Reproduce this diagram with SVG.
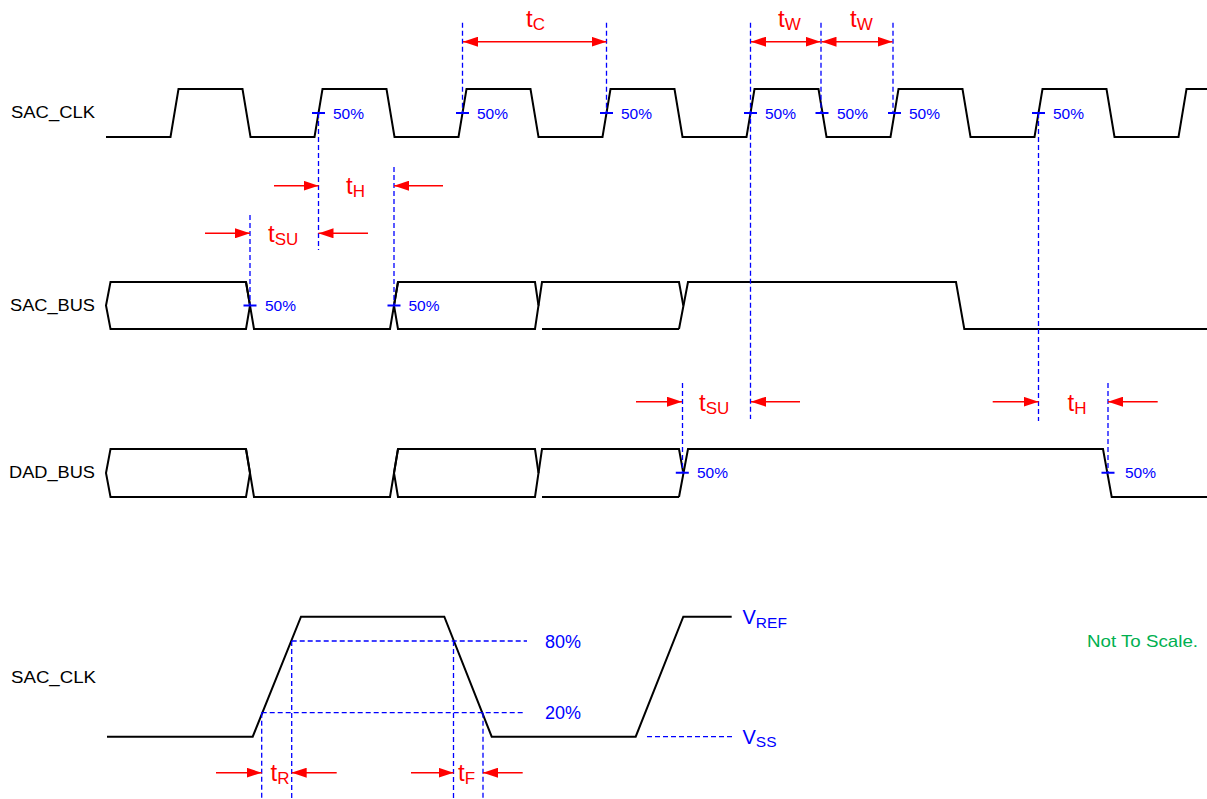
<svg xmlns="http://www.w3.org/2000/svg" width="1207" height="799" viewBox="0 0 1207 799">
<style>
.wave{fill:none;stroke:#000;stroke-width:2;stroke-linejoin:miter}
.dash{fill:none;stroke:#0000ff;stroke-width:1.3;stroke-dasharray:5 3}
.tick{stroke:#0000ff;stroke-width:2}
.arr{fill:none;stroke:#ff0000;stroke-width:1.4}
.lbl{font-family:"Liberation Sans",Arial,sans-serif;font-size:16px;fill:#000}
.pct{font-family:"Liberation Sans",Arial,sans-serif;font-size:15.5px;fill:#0000ff}
.big{font-family:"Liberation Sans",Arial,sans-serif;font-size:18px;fill:#0000ff}
.tl{font-family:"Liberation Sans",Arial,sans-serif;font-size:24px;fill:#ff0000}
.sub{font-size:17px}
.v{font-family:"Liberation Sans",Arial,sans-serif;font-size:20px;fill:#0000ff}
.vs{font-size:15.5px}
.note{font-family:"Liberation Sans",Arial,sans-serif;font-size:17px;fill:#00b050}
</style>
<defs>
<marker id="ah" markerUnits="userSpaceOnUse" markerWidth="15" markerHeight="10" refX="15" refY="5" orient="auto-start-reverse" viewBox="0 0 15 10">
<path d="M0,0 L15,5 L0,10 Z" fill="#ff0000"/>
</marker>
</defs>
<rect width="1207" height="799" fill="#fff"/>

<g id="labels">
<text class="lbl" x="11" y="118" textLength="84" lengthAdjust="spacingAndGlyphs">SAC_CLK</text>
<text class="lbl" x="10" y="311" textLength="85" lengthAdjust="spacingAndGlyphs">SAC_BUS</text>
<text class="lbl" x="9" y="478" textLength="86" lengthAdjust="spacingAndGlyphs">DAD_BUS</text>
<text class="lbl" x="11" y="683" textLength="85" lengthAdjust="spacingAndGlyphs">SAC_CLK</text>
<text class="note" x="1087" y="647" textLength="111" lengthAdjust="spacingAndGlyphs">Not To Scale.</text>
</g>

<g id="sac-clk">
<path class="wave" d="M106,137 H170.5 L178.5,89 H242.5 L250.5,137 H314.5 L322.5,89 H386.5 L394.5,137 H458.5 L466.5,89 H530.5 L538.5,137 H602.5 L610.5,89 H674.5 L682.5,137 H746.5 L754.5,89 H818.5 L826.5,137 H890.5 L898.5,89 H962.5 L970.5,137 H1034.5 L1042.5,89 H1106.5 L1114.5,137 H1178.5 L1186.5,89 H1207"/>
</g>

<g id="sac-bus">
<path class="wave" d="M106,305.5 L110.5,282 H246 L250,305.5 L246,329 H110.5 Z"/>
<path class="wave" d="M246,282 L254,329 H390 L398,282"/>
<path class="wave" d="M394,305.5 L398,282 H535 L538.5,305.5 L535,329 H398 Z"/>
<path class="wave" d="M538.5,305.5 L542,282 H679 L683.3,305.5 M542,329 H679"/>
<path class="wave" d="M679,329 L688,282 H956 L964.3,329 H1207"/>
</g>

<g id="dad-bus">
<path class="wave" d="M106,473 L110.5,449 H246 L250,473 L246,497 H110.5 Z"/>
<path class="wave" d="M246,449 L254,497 H390 L398,449"/>
<path class="wave" d="M394,473 L398,449 H535 L538.5,473 L535,497 H398 Z"/>
<path class="wave" d="M538.5,473 L542,449 H679 L683.3,473 M542,497 H679"/>
<path class="wave" d="M679,497 L688,449 H1103 L1111.7,497 H1207"/>
</g>

<g id="sac-clk-edge">
<path class="wave" d="M107,736.7 H252.7 L301,616.7 H444.3 L491.7,736.7 H635.7 L683.3,616.7 H731.7"/>
</g>

<g id="markers">
<path class="tick" d="M312,113 h13 M456,113 h13 M600,113 h13 M744,113 h13 M815.5,113 h13 M888,113 h13 M1032,113 h13 M243.5,305.5 h13 M387.5,305.5 h13 M675.8,472.7 h13 M1101.5,472.7 h13"/>
<text class="pct" x="333" y="118.5">50%</text>
<text class="pct" x="477" y="118.5">50%</text>
<text class="pct" x="621" y="118.5">50%</text>
<text class="pct" x="765" y="118.5">50%</text>
<text class="pct" x="837" y="118.5">50%</text>
<text class="pct" x="909" y="118.5">50%</text>
<text class="pct" x="1053" y="118.5">50%</text>
<text class="pct" x="265" y="310.5">50%</text>
<text class="pct" x="408.5" y="310.5">50%</text>
<text class="pct" x="697" y="477.5">50%</text>
<text class="pct" x="1125" y="477.5">50%</text>
<text class="big" x="545" y="647.5">80%</text>
<text class="big" x="545" y="719">20%</text>
<text class="v" x="742.5" y="623.5">V<tspan class="vs" dy="4">REF</tspan></text>
<text class="v" x="742.5" y="744">V<tspan class="vs" dy="3">SS</tspan></text>
</g>

<g id="guides">
<path class="dash" d="M318.5,113 V250 M250,215 V305 M394,167 V305 M462.5,22.7 V113 M606.5,22.7 V113 M750.5,22.7 V419 M821,22.7 V113 M893,22.7 V113 M1038.5,113 V421 M682.5,383 V473 M1108,383 V473"/>
<path class="dash" d="M291.7,641 H527 M261.7,712.7 H525 M261.7,712.7 V799 M291.7,641 V799 M453.5,641 V799 M483,712.7 V799 M647,736.7 H733"/>
</g>

<g id="connectors">
<line class="arr" x1="463" y1="41.7" x2="606.5" y2="41.7" marker-start="url(#ah)" marker-end="url(#ah)"/>
<line class="arr" x1="751" y1="41.7" x2="820.5" y2="41.7" marker-start="url(#ah)" marker-end="url(#ah)"/>
<line class="arr" x1="821.5" y1="41.7" x2="892.5" y2="41.7" marker-start="url(#ah)" marker-end="url(#ah)"/>
<line class="arr" x1="274" y1="185.7" x2="318.5" y2="185.7" marker-end="url(#ah)"/>
<line class="arr" x1="443" y1="185.7" x2="394" y2="185.7" marker-end="url(#ah)"/>
<line class="arr" x1="205" y1="233.3" x2="250" y2="233.3" marker-end="url(#ah)"/>
<line class="arr" x1="368" y1="233.3" x2="318.5" y2="233.3" marker-end="url(#ah)"/>
<line class="arr" x1="636" y1="401.7" x2="682" y2="401.7" marker-end="url(#ah)"/>
<line class="arr" x1="800" y1="401.7" x2="751" y2="401.7" marker-end="url(#ah)"/>
<line class="arr" x1="992.7" y1="401.7" x2="1038.5" y2="401.7" marker-end="url(#ah)"/>
<line class="arr" x1="1157.7" y1="401.7" x2="1108" y2="401.7" marker-end="url(#ah)"/>
<line class="arr" x1="216" y1="772.7" x2="261.7" y2="772.7" marker-end="url(#ah)"/>
<line class="arr" x1="336.7" y1="772.7" x2="291.7" y2="772.7" marker-end="url(#ah)"/>
<line class="arr" x1="411" y1="772.7" x2="453.5" y2="772.7" marker-end="url(#ah)"/>
<line class="arr" x1="522.7" y1="772.7" x2="483" y2="772.7" marker-end="url(#ah)"/>
</g>

<g id="timing-labels">
<text class="tl" x="526" y="27">t<tspan class="sub" dy="3">C</tspan></text>
<text class="tl" x="778" y="27">t<tspan class="sub" dy="3">W</tspan></text>
<text class="tl" x="850" y="27">t<tspan class="sub" dy="3">W</tspan></text>
<text class="tl" x="346" y="194.3">t<tspan class="sub" dy="3">H</tspan></text>
<text class="tl" x="268" y="242.3">t<tspan class="sub" dy="3">SU</tspan></text>
<text class="tl" x="699" y="410.5">t<tspan class="sub" dy="3">SU</tspan></text>
<text class="tl" x="1067.5" y="410.5">t<tspan class="sub" dy="3">H</tspan></text>
<text class="tl" x="270.5" y="780.5">t<tspan class="sub" dy="3.5">R</tspan></text>
<text class="tl" x="458" y="780.5">t<tspan class="sub" dy="3.5">F</tspan></text>
</g>
</svg>
